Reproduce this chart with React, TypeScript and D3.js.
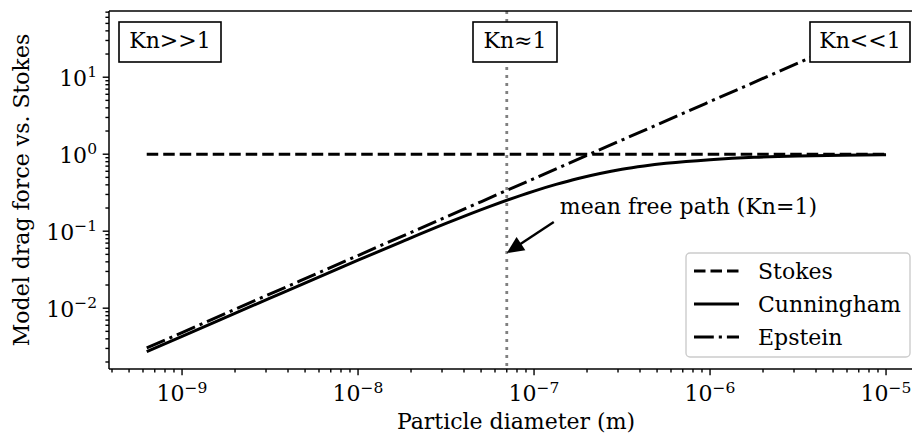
import React from 'react';
import * as d3 from 'd3';

// Particle diameters (m) and drag force ratios
const cunninghamDiameters = [6.3e-10, 1e-9, 3.16e-9, 1e-8, 1.78e-8, 3.16e-8, 5.62e-8, 1e-7, 1.334e-7, 1.78e-7, 2.37e-7, 3.16e-7, 4.22e-7, 5.62e-7, 1e-6, 1.334e-6, 1.78e-6, 3.16e-6, 5.62e-6, 1e-5];
const cunninghamValues = [0.00272, 0.0043, 0.0135, 0.042, 0.0733, 0.126, 0.21, 0.332, 0.405, 0.484, 0.562, 0.637, 0.703, 0.761, 0.85, 0.883, 0.91, 0.947, 0.97, 0.983];
const epsteinDiameters = [6.3e-10, 1e-9, 1e-8, 1e-7, 1e-6, 1e-5];
const epsteinValues = [0.00304, 0.00483, 0.0483, 0.483, 4.83, 48.3];
const stokesDiameters = [6.3e-10, 1e-5];
const stokesValues = [1, 1];

const meanFreePath = 7e-8;
const arrowTipValue = 0.052;

const xTickExponents = [-9, -8, -7, -6, -5];
const yTickExponents = [-2, -1, 0, 1];
const legendLabels = ['Stokes', 'Cunningham', 'Epstein'];
const regimeLabels = ['Kn>>1', 'Kn≈1', 'Kn<<1'];
const annotationText = 'mean free path (Kn=1)';
const xLabel = 'Particle diameter (m)';
const yLabel = 'Model drag force vs. Stokes';

const W = 912;
const H = 436;
const FONT = "'DejaVu Serif'";
const FS = 22;
const LW = 3;
const DASHED = '11.5 5';
const DASHDOT = '19.8 5 3.1 5';
const TS: React.CSSProperties = { fontFamily: FONT };

export default function App() {
  const left = 109, right = 923, top = 11, bottom = 369;
  const x = d3.scaleLog().domain([Math.pow(10, -9.415), Math.pow(10, -4.79)]).range([left, right]);
  const y = d3.scaleLog().domain([Math.pow(10, -2.79), Math.pow(10, 1.86)]).range([bottom, top]);

  const line = d3.line<[number, number]>().x(d => x(d[0])).y(d => y(d[1])).curve(d3.curveMonotoneX);
  const zip = (a: number[], b: number[]) => a.map((v, i) => [v, b[i]] as [number, number]);

  const [xd0, xd1] = x.domain();
  const [yd0, yd1] = y.domain();
  const minorTicks = (lo: number, hi: number) => {
    const out: number[] = [];
    for (let e = Math.floor(Math.log10(lo)); e <= Math.ceil(Math.log10(hi)); e++) {
      for (let m = 2; m <= 9; m++) {
        const v = m * Math.pow(10, e);
        if (v >= lo && v <= hi) out.push(v);
      }
    }
    return out;
  };
  const xMinor = minorTicks(xd0, xd1);
  const yMinor = minorTicks(yd0, yd1);

  const mfpX = x(meanFreePath);
  const tipX = mfpX;
  const tipY = y(arrowTipValue);
  const tailX = tipX + 47, tailY = tipY - 31;
  const dx = tipX - tailX, dy = tipY - tailY;
  const len = Math.sqrt(dx * dx + dy * dy);
  const ux = dx / len, uy = dy / len;
  const headL = 17, headW = 8;
  const baseX = tipX - ux * headL, baseY = tipY - uy * headL;
  const headPts = [
    [tipX, tipY],
    [baseX - uy * headW, baseY + ux * headW],
    [baseX + uy * headW, baseY - ux * headW],
  ].map(p => p.join(',')).join(' ');

  const regimeBoxes = [
    { label: regimeLabels[0], x0: 119, w: 102, cx: 170 },
    { label: regimeLabels[1], x0: 473, w: 84, cx: 515 },
    { label: regimeLabels[2], x0: 810, w: 100, cx: 860 },
  ];

  const supLabel = (e: number) => (
    <>
      <tspan>10</tspan>
      <tspan dy={-8.5} fontSize={15.5}>{e < 0 ? '\u2212' + Math.abs(e) : String(e)}</tspan>
    </>
  );

  const legendStyles = [DASHED, undefined, DASHDOT];
  const legendY = [271, 304, 337];

  return (
    <svg width={W} height={H} style={{ position: 'absolute', left: 0, top: 0, background: '#fff', fontFamily: FONT }}>
      <rect x={0} y={0} width={W} height={H} fill="#fff" />
      <defs>
        <clipPath id="plotClip">
          <rect x={left} y={top} width={right - left} height={bottom - top} />
        </clipPath>
      </defs>

      <g clipPath="url(#plotClip)" fill="none" stroke="#000" strokeWidth={LW}>
        <path d={line(zip(stokesDiameters, stokesValues)) || ''} strokeDasharray={DASHED} />
        <path d={line(zip(cunninghamDiameters, cunninghamValues)) || ''} />
        <path d={line(zip(epsteinDiameters, epsteinValues)) || ''} strokeDasharray={DASHDOT} />
        <line x1={mfpX} x2={mfpX} y1={top} y2={bottom} stroke="#808080" strokeWidth={2.8} strokeDasharray="3 5" />
      </g>

      {/* annotation */}
      <line x1={tailX} y1={tailY} x2={baseX + ux * 2} y2={baseY + uy * 2} stroke="#000" strokeWidth={2.4} />
      <polygon points={headPts} fill="#000" />
      <text x={tailX + 6} y={tailY - 8} fontSize={FS} fill="#000" style={TS}>{annotationText}</text>

      {/* regime boxes */}
      {regimeBoxes.map(b => (
        <g key={b.label}>
          <rect x={b.x0} y={22} width={b.w} height={40} fill="#fff" stroke="#000" strokeWidth={1.6} />
          <text x={b.cx} y={48} fontSize={FS} textAnchor="middle" fill="#000" style={TS}>{b.label}</text>
        </g>
      ))}

      {/* spines */}
      <g stroke="#000" strokeWidth={1.5} fill="none">
        <line x1={left} x2={left} y1={top} y2={bottom} />
        <line x1={left} x2={right} y1={bottom} y2={bottom} />
        <line x1={left} x2={right} y1={top} y2={top} />
        <line x1={right} x2={right} y1={top} y2={bottom} />
      </g>

      {/* ticks */}
      <g stroke="#000" strokeWidth={1.4}>
        {xTickExponents.map(e => (
          <line key={'xM' + e} x1={x(Math.pow(10, e))} x2={x(Math.pow(10, e))} y1={bottom} y2={bottom + 6.3} />
        ))}
        {xMinor.map((v, i) => (
          <line key={'xm' + i} x1={x(v)} x2={x(v)} y1={bottom} y2={bottom + 3.6} />
        ))}
        {yTickExponents.map(e => (
          <line key={'yM' + e} x1={left} x2={left - 6.3} y1={y(Math.pow(10, e))} y2={y(Math.pow(10, e))} />
        ))}
        {yMinor.map((v, i) => (
          <line key={'ym' + i} x1={left} x2={left - 3.6} y1={y(v)} y2={y(v)} />
        ))}
      </g>
      {xTickExponents.map(e => (
        <text key={'xl' + e} x={x(Math.pow(10, e))} y={401} fontSize={FS} textAnchor="middle" fill="#000" style={TS}>
          {supLabel(e)}
        </text>
      ))}
      {yTickExponents.map(e => (
        <text key={'yl' + e} x={97} y={y(Math.pow(10, e)) + 8.5} fontSize={FS} textAnchor="end" fill="#000" style={TS}>
          {supLabel(e)}
        </text>
      ))}

      {/* axis labels */}
      <text x={(left + right) / 2} y={429} fontSize={FS} textAnchor="middle" fill="#000" style={TS}>{xLabel}</text>
      <text transform={`translate(29,${(top + bottom) / 2}) rotate(-90)`} fontSize={FS} textAnchor="middle" fill="#000" style={TS}>{yLabel}</text>

      {/* legend */}
      <rect x={686} y={253} width={224} height={104} rx={4} fill="#fff" fillOpacity={0.8} stroke="#cccccc" strokeWidth={1.4} />
      {legendLabels.map((lab, i) => (
        <g key={lab}>
          <line x1={694} x2={739} y1={legendY[i]} y2={legendY[i]} stroke="#000" strokeWidth={LW} strokeDasharray={legendStyles[i]} />
          <text x={758} y={legendY[i] + 8} fontSize={FS} fill="#000" style={TS}>{lab}</text>
        </g>
      ))}
    </svg>
  );
}
